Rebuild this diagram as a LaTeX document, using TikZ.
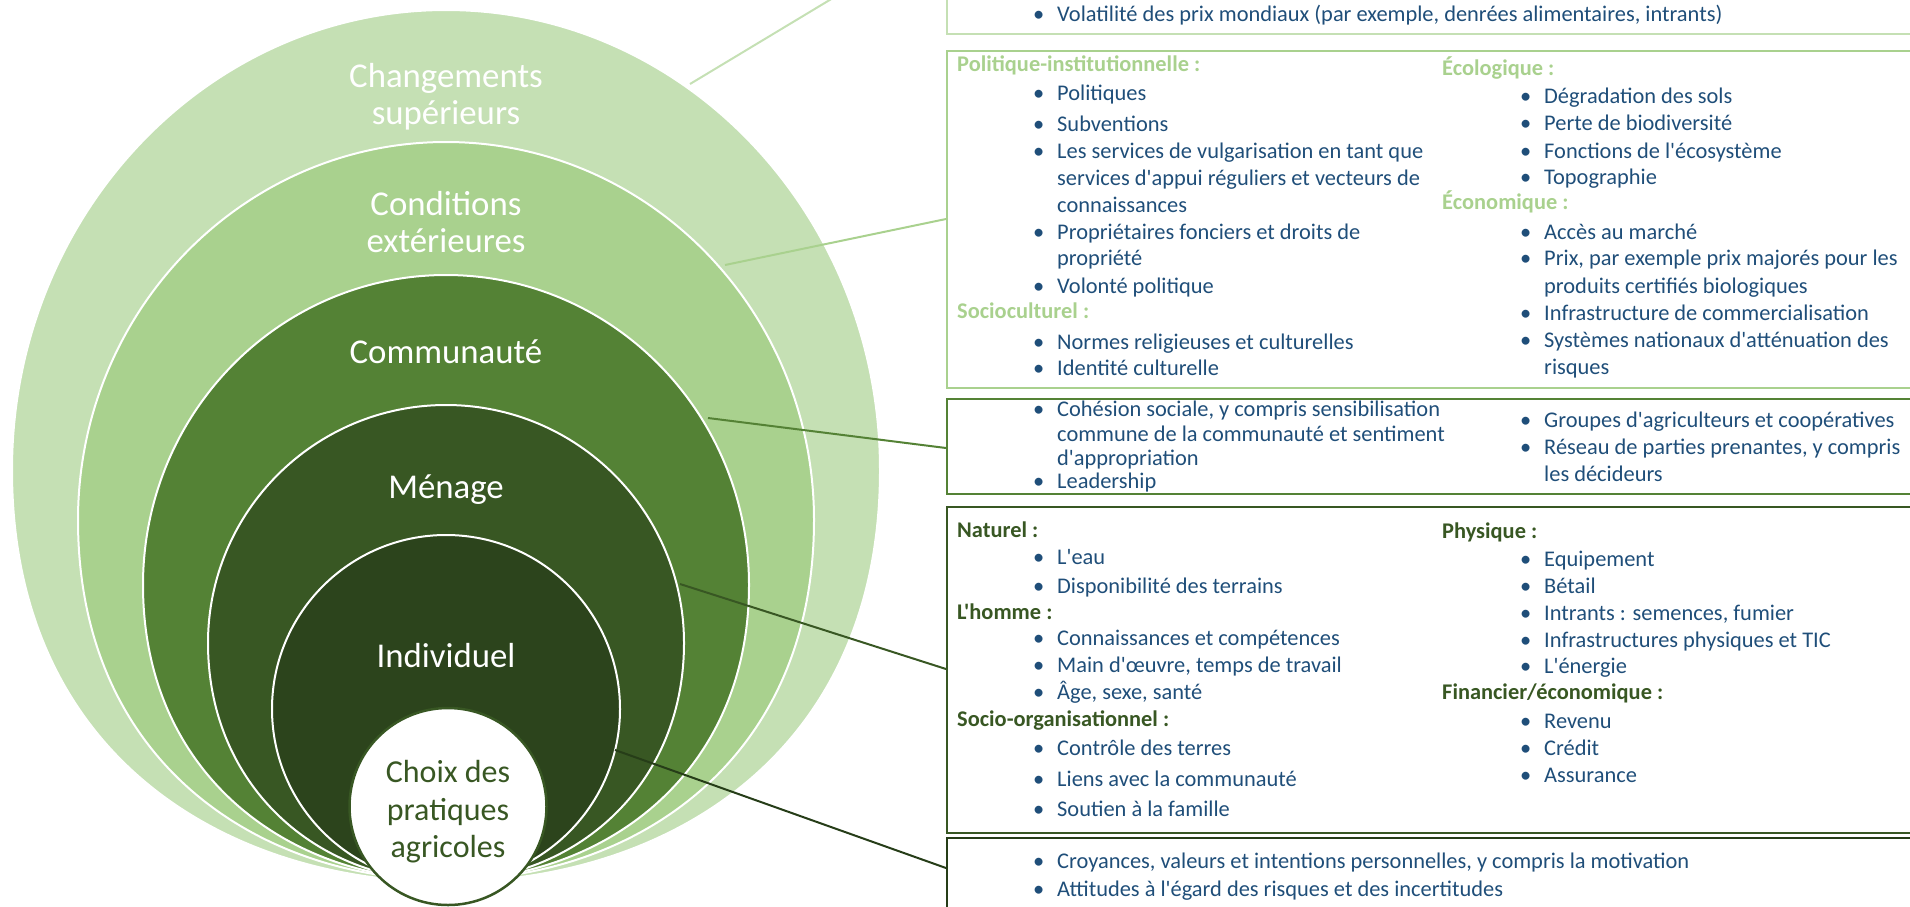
\documentclass[tikz,border=0pt]{standalone}
\usepackage{fontspec}
\setmainfont{Carlito}[Ligatures=TeXOff]
\definecolor{g1}{HTML}{C5E0B4}
\definecolor{g2}{HTML}{A9D18E}
\definecolor{g3}{HTML}{548235}
\definecolor{g4}{HTML}{385723}
\definecolor{g5}{HTML}{2C441C}
\definecolor{g6}{HTML}{263D18}
\definecolor{tcol}{HTML}{1F4E79}
\newcount\nodeno
\newcommand\itemline[3]{\global\advance\nodeno by 1\relax
  \node[bul] (u\the\nodeno) at (#1-24,#2) {•};
  \node[txt] (v\the\nodeno) at (#1,#2) {#3};}
\newcommand\contline[3]{\global\advance\nodeno by 1\relax
  \node[txt] (v\the\nodeno) at (#1,#2) {#3};}
\newcommand\headline[4]{\global\advance\nodeno by 1\relax
  \node[hdr,text=#4] (h\the\nodeno) at (#1,#2) {#3};}
% #1 colour, #2 half width, #3 top, #4 level of widest, #5 bottom, #6 #7 shape of the lower part
\newcommand\eggshape[7]{%
  \filldraw[fill=#1,draw=white,line width=2pt]
  (446,#3) .. controls ({446-0.552*#2},#3) and ({446-#2},{#4-0.552*(#4-#3)}) .. ({446-#2},#4)
  .. controls ({446-#2},{#4+#6}) and ({446-#7},#5) .. (446,#5)
  .. controls ({446+#7},#5) and ({446+#2},{#4+#6}) .. ({446+#2},#4)
  .. controls ({446+#2},{#4-0.552*(#4-#3)}) and ({446+0.552*#2},#3) .. (446,#3) -- cycle;}
\begin{document}
\begin{tikzpicture}[x=1pt,y=-1pt,
  lbl/.style={anchor=base,inner sep=0pt,text=white,font=\fontsize{34.8}{38}\selectfont},
  clbl/.style={anchor=base,inner sep=0pt,text=g4,font=\fontsize{32}{38}\selectfont},
  txt/.style={anchor=base west,inner sep=0pt,text=tcol,font=\fontsize{22.4}{27}\selectfont},
  bul/.style={anchor=base west,inner sep=0pt,text=tcol,font=\fontsize{22.4}{27}\selectfont},
  hdr/.style={anchor=base west,inner sep=0pt,font=\fontsize{22.4}{27}\selectfont\bfseries},
  box/.style={draw,line width=2pt,anchor=north west,inner sep=0pt,minimum width=1000pt},
  conn/.style={line width=2pt}]
\useasboundingbox (0,0) rectangle (1910,906);
% nested shapes
\eggshape{g1}{434}{10}{470}{882}{288}{217}
\eggshape{g2}{368}{142}{520}{880}{245}{184}
\eggshape{g3}{303}{275}{585}{880}{189}{158}
\eggshape{g4}{238}{405}{643}{881}{143}{129}
\eggshape{g5}{174}{535}{709}{883}{96}{96}
\node[circle,fill=white,draw=g4,line width=2.5pt,inner sep=0pt,outer sep=0pt,minimum size=197pt] (c6) at (448,806.5) {};
% labels
\node[lbl] (l1a) at (446,87) {Changements};
\node[lbl] (l1b) at (446,124) {supérieurs};
\node[lbl] (l2a) at (446,215) {Conditions};
\node[lbl] (l2b) at (446,252) {extérieures};
\node[lbl] (l3) at (446,363) {Communauté};
\node[lbl] (l4) at (446,498) {Ménage};
\node[lbl] (l5) at (446,667) {Individuel};
\node[clbl] (l6a) at (448,782) {Choix des};
\node[clbl] (l6b) at (448,820) {pratiques};
\node[clbl] (l6c) at (448,857) {agricoles};
% boxes
\node[box,draw=g1,minimum height=333pt] (b1) at (946,-300) {};
\node[box,draw=g2,minimum height=337pt] (b2) at (946,50) {};
\node[box,draw=g3,minimum height=95pt] (b3) at (946,398) {};
\node[box,draw=g4,minimum height=326pt] (b4) at (946,506) {};
\node[box,draw=g6,minimum height=200pt] (b5) at (946,837) {};
% connector ends
\coordinate (s1) at (690,84);
\coordinate (s2) at (725,265);
\coordinate (s3) at (708,418);
\coordinate (s4) at (680,584);
\coordinate (s5) at (615,750);
\coordinate (e1) at (946,-70);
\coordinate (e2) at (946,219);
\coordinate (e3) at (946,448);
\coordinate (e4) at (946,669);
\coordinate (e5) at (946,868);
\draw[conn,g1] (s1) -- (e1);
\draw[conn,g2] (s2) -- (e2);
\draw[conn,g3] (s3) -- (e3);
\draw[conn,g4] (s4) -- (e4);
\draw[conn,g6] (s5) -- (e5);
% box 1
\itemline{1057}{21}{Volatilité des prix mondiaux (par exemple, denrées alimentaires, intrants)}
% box 2
\headline{957}{71}{Politique-institutionnelle :}{g2}
\itemline{1057}{100}{Politiques}
\itemline{1057}{131}{Subventions}
\itemline{1057}{158}{Les services de vulgarisation en tant que}
\contline{1057}{185}{services d'appui réguliers et vecteurs de}
\contline{1057}{212}{connaissances}
\itemline{1057}{239}{Propriétaires fonciers et droits de}
\contline{1057}{265}{propriété}
\itemline{1057}{293}{Volonté politique}
\headline{957}{318}{Socioculturel :}{g2}
\itemline{1057}{349}{Normes religieuses et culturelles}
\itemline{1057}{375}{Identité culturelle}
\headline{1442}{75}{Écologique :}{g2}
\itemline{1544}{103}{Dégradation des sols}
\itemline{1544}{130}{Perte de biodiversité}
\itemline{1544}{158}{Fonctions de l'écosystème}
\itemline{1544}{184}{Topographie}
\headline{1442}{209}{Économique :}{g2}
\itemline{1544}{239}{Accès au marché}
\itemline{1544}{265}{Prix, par exemple prix majorés pour les}
\contline{1544}{293}{produits certifiés biologiques}
\itemline{1544}{320}{Infrastructure de commercialisation}
\itemline{1544}{347}{Systèmes nationaux d'atténuation des}
\contline{1544}{374}{risques}
% box 3
\itemline{1057}{416}{Cohésion sociale, y compris sensibilisation}
\contline{1057}{441}{commune de la communauté et sentiment}
\contline{1057}{465}{d'appropriation}
\itemline{1057}{488}{Leadership}
\itemline{1544}{427}{Groupes d'agriculteurs et coopératives}
\itemline{1544}{454}{Réseau de parties prenantes, y compris}
\contline{1544}{481}{les décideurs}
% box 4
\headline{957}{537}{Naturel :}{g4}
\itemline{1057}{564}{L'eau}
\itemline{1057}{593}{Disponibilité des terrains}
\headline{957}{619}{L'homme :}{g4}
\itemline{1057}{645}{Connaissances et compétences}
\itemline{1057}{672}{Main d'œuvre, temps de travail}
\itemline{1057}{699}{Âge, sexe, santé}
\headline{957}{726}{Socio-organisationnel :}{g4}
\itemline{1057}{755}{Contrôle des terres}
\itemline{1057}{786}{Liens avec la communauté}
\itemline{1057}{816}{Soutien à la famille}
\headline{1442}{538}{Physique :}{g4}
\itemline{1544}{566}{Equipement}
\itemline{1544}{593}{Bétail}
\itemline{1544}{620}{Intrants : semences, fumier}
\itemline{1544}{647}{Infrastructures physiques et TIC}
\itemline{1544}{673}{L'énergie}
\headline{1442}{699}{Financier/économique :}{g4}
\itemline{1544}{728}{Revenu}
\itemline{1544}{755}{Crédit}
\itemline{1544}{782}{Assurance}
% box 5
\itemline{1057}{868}{Croyances, valeurs et intentions personnelles, y compris la motivation}
\itemline{1057}{896}{Attitudes à l'égard des risques et des incertitudes}
\end{tikzpicture}
\end{document}
